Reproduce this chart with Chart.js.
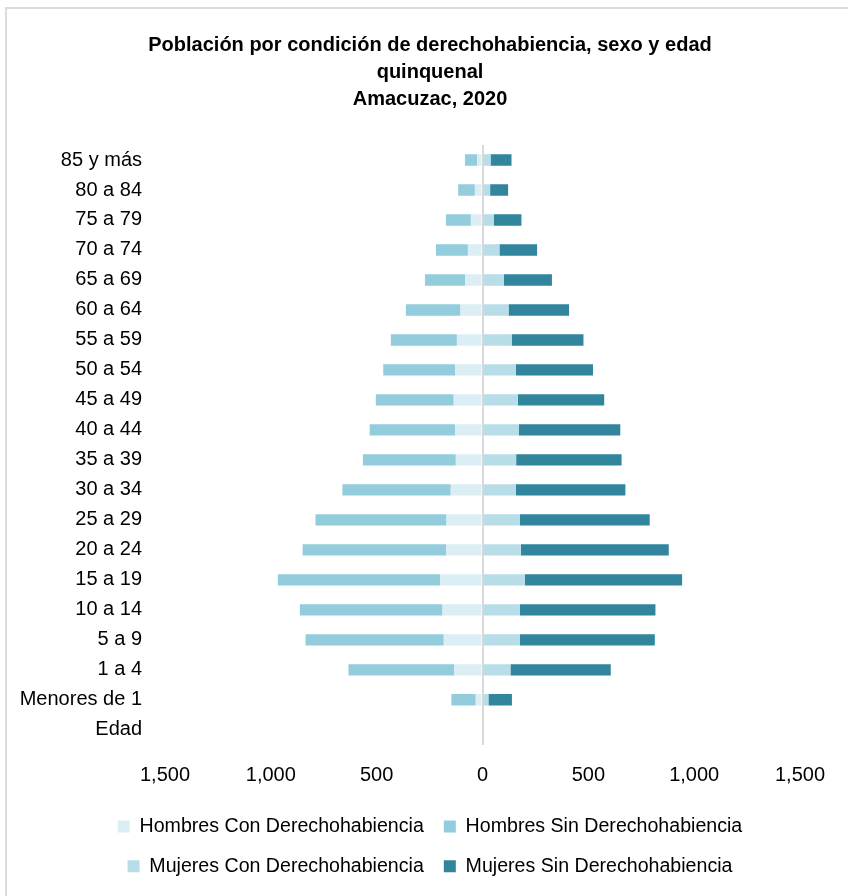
<!DOCTYPE html>
<html>
<head>
<meta charset="utf-8">
<script src="https://cdn.jsdelivr.net/npm/chart.js@4/dist/chart.umd.min.js"></script>
<style>
  body{margin:0;background:#fff;}
  #frame{position:absolute;left:5px;top:7px;width:900px;height:950px;border-top:2px solid #dcdcdc;border-left:2px solid #dcdcdc;}
  #myChart{position:absolute;left:0;top:0;}
</style>
</head>
<body>
<div id="frame"></div>
<canvas id="myChart" width="848" height="896"></canvas>
<script>
// grupos de edad, de arriba hacia abajo
var edades = ["85 y más","80 a 84","75 a 79","70 a 74","65 a 69","60 a 64","55 a 59","50 a 54","45 a 49","40 a 44","35 a 39","30 a 34","25 a 29","20 a 24","15 a 19","10 a 14","5 a 9","1 a 4","Menores de 1","Edad"];
var hombresCon = [25,36,55,69,82,104,121,129,136,129,126,150,170,172,200,189,183,134,32,null];
var hombresSin = [58,79,118,151,190,258,312,340,368,404,439,512,619,678,767,674,653,499,115,null];
var mujeresCon = [38,36,53,80,101,123,138,157,167,171,159,157,176,181,200,176,176,132,28,null];
var mujeresSin = [99,85,131,178,227,286,339,365,408,480,498,518,614,699,743,641,638,474,111,null];
var ticksX = [-1500,-1000,-500,0,500,1000,1500];

var fuente = "'Liberation Sans', Arial, sans-serif";

function neg(arr){
  return arr.map(function(v){ return v == null ? null : -v; });
}

var ctx = document.getElementById("myChart");
var myChart = new Chart(ctx, {
  type: 'bar',
  data: {
    labels: edades,
    datasets: [
      {label: "Hombres Con Derechohabiencia", data: neg(hombresCon), backgroundColor: "#dbeef4", stack: "p"},
      {label: "Hombres Sin Derechohabiencia", data: neg(hombresSin), backgroundColor: "#93cddd", stack: "p"},
      {label: "Mujeres Con Derechohabiencia", data: mujeresCon, backgroundColor: "#b7dee8", stack: "p"},
      {label: "Mujeres Sin Derechohabiencia", data: mujeresSin, backgroundColor: "#31859c", stack: "p"}
    ]
  },
  options: {
    indexAxis: 'y',
    responsive: false,
    animation: false,
    barPercentage: 0.38,
    categoryPercentage: 1,
    layout: {padding: {left: 12, right: 0, top: 0, bottom: 10}},
    plugins: {
      title: {
        display: true,
        text: ["Población por condición de derechohabiencia, sexo y edad", "quinquenal", "Amacuzac, 2020"],
        color: "#000",
        font: {family: fuente, size: 20, weight: 'bold', lineHeight: 1.35},
        padding: {top: 32, bottom: 32}
      },
      legend: {
        position: 'bottom',
        labels: {
          color: "#000",
          font: {family: fuente, size: 19.6},
          boxWidth: 12,
          boxHeight: 12,
          padding: 20
        }
      },
      tooltip: {enabled: false}
    },
    scales: {
      x: {
        type: 'linear',
        stacked: true,
        min: -1500,
        max: 1500,
        afterBuildTicks: function(scale){
          scale.ticks = ticksX.map(function(v){ return {value: v}; });
        },
        afterFit: function(scale){ scale.height = 52; },
        ticks: {
          color: "#000",
          font: {family: fuente, size: 20},
          padding: 19,
          callback: function(v){ return Math.abs(v).toLocaleString('en-US'); }
        },
        grid: {
          drawTicks: false,
          lineWidth: 2,
          color: function(c){ return c.tick && c.tick.value === 0 ? "#d9d9d9" : "rgba(0,0,0,0)"; }
        },
        border: {display: false}
      },
      y: {
        stacked: true,
        afterFit: function(scale){ scale.width = 153; },
        ticks: {
          color: "#000",
          font: {family: fuente, size: 20},
          padding: 23
        },
        grid: {display: false, drawTicks: false},
        border: {display: false}
      },
      // eje vacio a la derecha, solo para dejar el margen
      derecha: {
        axis: 'y',
        type: 'linear',
        position: 'right',
        afterFit: function(scale){ scale.width = 48; },
        ticks: {display: false},
        grid: {display: false, drawTicks: false},
        border: {display: false}
      }
    }
  }
});
</script>
</body>
</html>
